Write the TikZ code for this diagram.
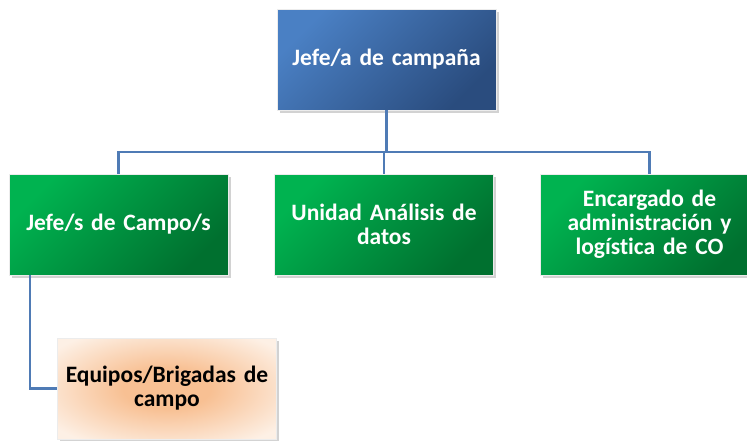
\documentclass[tikz,border=0pt]{standalone}
\usepackage{fontspec}
\setmainfont{Carlito}[Ligatures={NoCommon,NoRare,NoDiscretionary}]
\usetikzlibrary{shadows}
\definecolor{blueL}{HTML}{4A80C4}
\definecolor{blueD}{HTML}{2A4C7E}
\definecolor{greenL}{HTML}{00B350}
\definecolor{greenD}{HTML}{00702F}
\definecolor{orC}{HTML}{F8C093}
\definecolor{orE}{HTML}{FDF0E5}
\definecolor{lineC}{HTML}{4F7BB5}
\pgfdeclareradialshading{orsh}{\pgfpoint{0bp}{0bp}}{color(0bp)=(orC); color(10bp)=(orC); color(32bp)=(orE); color(50bp)=(orE)}
\tikzset{
  box/.style={draw=white!85!gray, line width=0.8pt, minimum width=219pt, minimum height=101pt,
    align=center, font=\bfseries\fontsize{23.5}{24}\selectfont, text width=212pt,
    drop shadow={opacity=0.35, shadow xshift=2.5pt, shadow yshift=-2.5pt}},
  bluebox/.style={box, text=white, top color=blueL, bottom color=blueD, shading angle=45},
  greenbox/.style={box, text=white, top color=greenL, bottom color=greenD, shading angle=45},
  orangebox/.style={box, text=black, shading=orsh},
  conn/.style={draw=lineC, line width=2.2pt}
}
\begin{document}
\begin{tikzpicture}[x=1pt,y=-1pt]
\clip (0,0) rectangle (747,440);
\fill[white] (0,0) rectangle (747,440);
\node[bluebox] (top) at (386.5,59.5) {Jefe/a de campaña};
\node[greenbox] (g1) at (118.5,224.5) {Jefe/s de Campo/s};
\node[greenbox] (g2) at (384,224.5) {Unidad Análisis de\\datos};
\node[greenbox] (g3) at (649.5,224.5) {Encargado de\\administración y\\logística de CO};
\node[orangebox] (eq) at (167,388.5) {Equipos/Brigadas de\\campo};
\coordinate (bus) at (0,152);
\draw[conn] (top.south) -- (top.south |- bus) -| (g1.north);
\draw[conn] (top.south |- bus) -| (g2.north);
\draw[conn] (top.south |- bus) -| (g3.north);
\draw[conn] ([xshift=21pt]g1.south west) |- (eq.west);
\end{tikzpicture}
\end{document}
